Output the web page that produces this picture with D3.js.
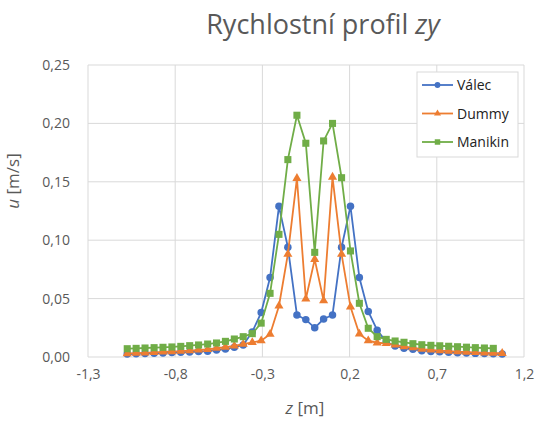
<!DOCTYPE html>
<html>
<head>
<meta charset="utf-8">
<script src="https://cdn.jsdelivr.net/npm/d3@7"></script>
<style>
  body { margin: 0; background: #fff; }
  text { font-family: "Open Sans", "Noto Sans", sans-serif; }
</style>
</head>
<body>
<div id="chart"></div>
<script>
// Data
const zValues = [
  -1.075, -1.024, -0.973, -0.921, -0.870, -0.819, -0.768, -0.717, -0.666, -0.614, -0.563,
  -0.512, -0.461, -0.410, -0.358, -0.307, -0.256, -0.205, -0.154, -0.102, -0.051,
  0,
  0.051, 0.102, 0.154, 0.205, 0.256, 0.307, 0.358, 0.410, 0.461, 0.512,
  0.563, 0.614, 0.666, 0.717, 0.768, 0.819, 0.870, 0.921, 0.973, 1.024, 1.075
];
const valec = [
  0.0025, 0.0027, 0.0030, 0.0032, 0.0035, 0.0038, 0.0040, 0.0043, 0.0047, 0.0050, 0.0060,
  0.0068, 0.0083, 0.0103, 0.0215, 0.038, 0.068, 0.129, 0.094, 0.036, 0.032,
  0.025,
  0.0325, 0.036, 0.094, 0.129, 0.068, 0.039, 0.023, 0.013, 0.0094, 0.0074,
  0.0066, 0.0054, 0.0048, 0.0044, 0.0040, 0.0037, 0.0034, 0.0031, 0.0029, 0.0027, 0.0025
];
const dummy = [
  0.0030, 0.0033, 0.0036, 0.0040, 0.0043, 0.0047, 0.0050, 0.0055, 0.0060, 0.0065, 0.0075,
  0.0085, 0.0095, 0.0110, 0.0125, 0.014, 0.0195, 0.0437, 0.088, 0.153, 0.0497,
  0.0836,
  0.0482, 0.154, 0.088, 0.043, 0.0197, 0.014, 0.0122, 0.0117, 0.0103, 0.0088,
  0.0080, 0.0068, 0.0060, 0.0055, 0.0050, 0.0046, 0.0042, 0.0039, 0.0036, 0.0034, 0.0032
];
const manikin = [
  0.0071, 0.0074, 0.0077, 0.0080, 0.0083, 0.0086, 0.0091, 0.0097, 0.0103, 0.0111, 0.0120,
  0.0134, 0.0154, 0.0174, 0.020, 0.029, 0.0545, 0.105, 0.169, 0.207, 0.183,
  0.0896,
  0.185, 0.200, 0.1535, 0.0908, 0.046, 0.0246, 0.0174, 0.0151, 0.0137, 0.0126,
  0.0114, 0.0105, 0.0100, 0.0096, 0.0092, 0.0088, 0.0084, 0.0080, 0.0077, 0.0074, null
];
const xTicks = [-1.3, -0.8, -0.3, 0.2, 0.7, 1.2];
const yTicks = [0, 0.05, 0.10, 0.15, 0.20, 0.25];

const seriesList = [
  { name: "Válec", values: valec, color: "#4472C4", shape: d3.symbolCircle, size: 44 },
  { name: "Dummy", values: dummy, color: "#ED7D31", shape: d3.symbolTriangle, size: 36 },
  { name: "Manikin", values: manikin, color: "#70AD47", shape: d3.symbolSquare, size: 50 }
];

const width = 535, height = 426;
const margin = { top: 65, right: 11, bottom: 69, left: 88 };

const svg = d3.select("#chart").append("svg")
  .attr("width", width)
  .attr("height", height);

const x = d3.scaleLinear().domain([-1.3, 1.2]).range([margin.left, width - margin.right]);
const y = d3.scaleLinear().domain([0, 0.25]).range([height - margin.bottom, margin.top]);

// Czech decimal comma, plain hyphen for minus
const comma = d => d3.format(".1f")(d).replace("−", "-").replace(".", ",");
const comma2 = d => d3.format(".2f")(d).replace(".", ",");

// Gridlines
svg.append("g")
  .selectAll("line")
  .data(yTicks)
  .join("line")
  .attr("x1", x(-1.3)).attr("x2", x(1.2))
  .attr("y1", d => y(d)).attr("y2", d => y(d))
  .attr("stroke", "#d9d9d9").attr("stroke-width", 1);

svg.append("g")
  .selectAll("line")
  .data(xTicks)
  .join("line")
  .attr("x1", d => x(d)).attr("x2", d => x(d))
  .attr("y1", y(0)).attr("y2", y(0.25))
  .attr("stroke", "#d9d9d9").attr("stroke-width", 1);

// Axes (labels only)
const xAxis = d3.axisBottom(x).tickValues(xTicks).tickFormat(comma).tickSize(0).tickPadding(12);
const yAxis = d3.axisLeft(y).tickValues(yTicks).tickFormat(comma2).tickSize(0).tickPadding(18);

const gx = svg.append("g").attr("transform", "translate(0," + y(0) + ")").call(xAxis);
const gy = svg.append("g").attr("transform", "translate(" + x(-1.3) + ",0)").call(yAxis);
[gx, gy].forEach(g => {
  g.select(".domain").remove();
  g.selectAll("text").attr("fill", "#595959").style("font-size", "14px")
    .style("font-family", "'Open Sans', sans-serif");
});

// Lines and markers
seriesList.forEach(s => {
  const pts = zValues.map((z, i) => ({ z: z, v: s.values[i] })).filter(d => d.v !== null);
  const line = d3.line().x(d => x(d.z)).y(d => y(d.v));
  svg.append("path")
    .datum(pts)
    .attr("d", line)
    .attr("fill", "none")
    .attr("stroke", s.color)
    .attr("stroke-width", 1.8);
  svg.append("g")
    .selectAll("path")
    .data(pts)
    .join("path")
    .attr("d", d3.symbol().type(s.shape).size(s.size))
    .attr("transform", d => "translate(" + x(d.z) + "," + y(d.v) + ")")
    .attr("fill", s.color);
});

// Title
const title = svg.append("text")
  .attr("x", 323).attr("y", 34)
  .attr("text-anchor", "middle")
  .attr("fill", "#595959")
  .style("font-size", "27px");
title.append("tspan").text("Rychlostní profil ");
title.append("tspan").style("font-style", "italic").text("zy");

// Axis titles
const xt = svg.append("text")
  .attr("x", 305).attr("y", 414)
  .attr("text-anchor", "middle")
  .attr("fill", "#595959")
  .style("font-size", "17px");
xt.append("tspan").style("font-style", "italic").text("z");
xt.append("tspan").text(" [m]");

const yt = svg.append("text")
  .attr("transform", "translate(19,181) rotate(-90)")
  .attr("text-anchor", "middle")
  .attr("fill", "#595959")
  .style("font-size", "17px");
yt.append("tspan").style("font-style", "italic").text("u");
yt.append("tspan").text(" [m/s]");

// Legend
const legend = svg.append("g").attr("transform", "translate(417,72)");
legend.append("rect")
  .attr("width", 101).attr("height", 85)
  .attr("fill", "#fff").attr("stroke", "#d9d9d9");
seriesList.forEach((s, i) => {
  const ly = 13 + i * 28.5;
  const row = legend.append("g").attr("transform", "translate(0," + ly + ")");
  row.append("line")
    .attr("x1", 5).attr("x2", 36)
    .attr("stroke", s.color).attr("stroke-width", 1.8);
  row.append("path")
    .attr("d", d3.symbol().type(s.shape).size(s.size * 0.6))
    .attr("transform", "translate(20.5,0)")
    .attr("fill", s.color);
  row.append("text")
    .attr("x", 40).attr("y", 5)
    .attr("fill", "#222")
    .style("font-size", "14px")
    .text(s.name);
});
</script>
</body>
</html>
